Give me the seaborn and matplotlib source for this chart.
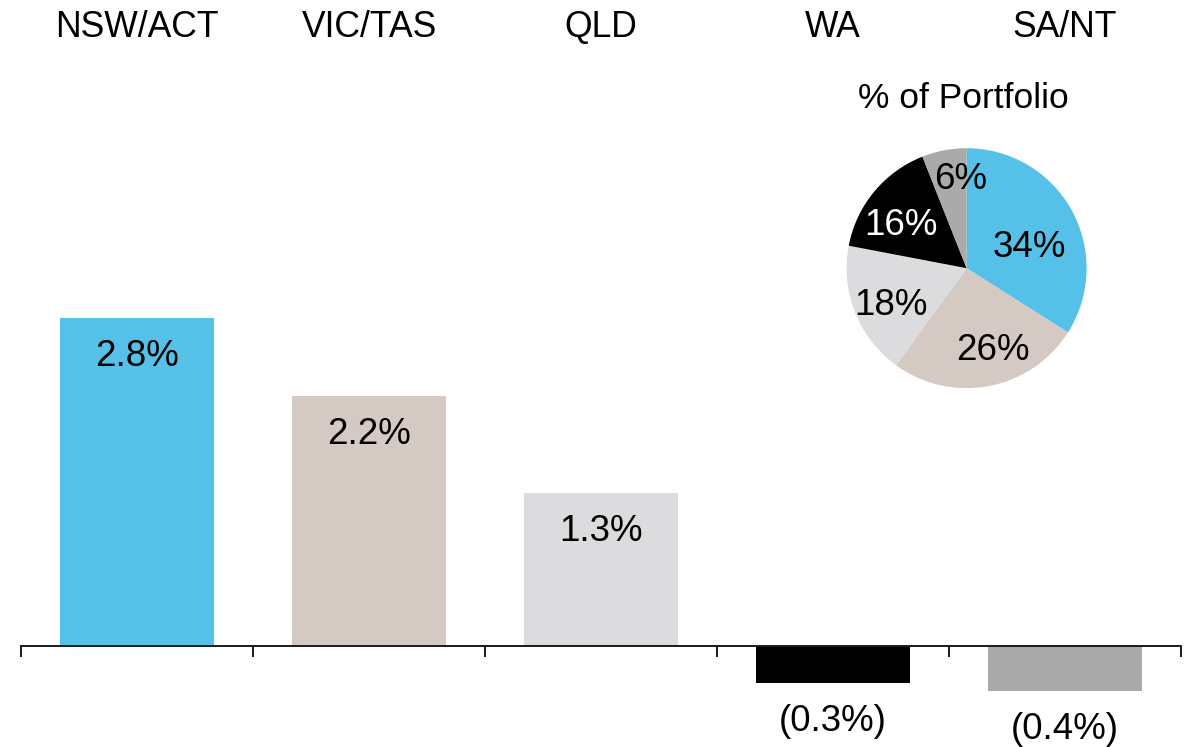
import numpy as np
import pandas as pd
import seaborn as sns
import matplotlib.pyplot as plt

# bar data
regions = ["NSW/ACT", "VIC/TAS", "QLD", "WA", "SA/NT"]
growth = [2.8, 2.13, 1.30, -0.32, -0.39]
growth_labels = ["2.8%", "2.2%", "1.3%", "(0.3%)", "(0.4%)"]

# pie data (share of portfolio, same order as regions)
share = [34, 26, 18, 16, 6]
share_labels = ["34%", "26%", "18%", "16%", "6%"]

BLUE = "#55C1E8"
BEIGE = "#D5C9C3"
LIGHT_GREY = "#DCDCDE"
BLACK = "#000000"
GREY = "#AAAAAB"
colors = [BLUE, BEIGE, LIGHT_GREY, BLACK, GREY]

sns.set_theme(style="white")
plt.rcParams['font.family'] = ['Liberation Sans', 'DejaVu Sans']

W, H = 1196, 747
fig = plt.figure(figsize=(W / 100, H / 100), dpi=100)

# main axes: spans full height, zero line at y=645.7px, 117.1 px per 1%
px_per_unit = 117.1
zero_px = 645.7
ax = fig.add_axes([21 / W, 0, 1160 / W, 1])

df = pd.DataFrame({"region": regions, "growth": growth})
sns.barplot(data=df, x="region", y="growth", hue="region", palette=colors,
            order=regions, hue_order=regions, width=0.668, saturation=1,
            legend=False, linewidth=0, ax=ax)

ax.set_xlim(-0.5, 4.5)
ax.set_ylim(-(H - zero_px) / px_per_unit, zero_px / px_per_unit)
ax.set_xlabel('')
ax.set_ylabel('')
ax.set_yticks([])
ax.set_xticks(np.arange(-0.5, 5, 1))
ax.set_xticklabels([])
for s in ['left', 'right', 'top']:
    ax.spines[s].set_visible(False)
ax.spines['bottom'].set_position(('data', 0))
ax.spines['bottom'].set_linewidth(1.4)
ax.spines['bottom'].set_color('#1a1a1a')
ax.tick_params(axis='x', direction='out', length=8, width=1.4, color='#1a1a1a', bottom=True)

# bar value labels
offset = 48 / px_per_unit
for i, (v, lab) in enumerate(zip(growth, growth_labels)):
    ax.text(i, v - offset, lab, ha='center', va='baseline', fontsize=26.5, color='black')

# region names on top
for i, name in enumerate(regions):
    ax.text(i, 1 - 37.3 / H, name, transform=ax.get_xaxis_transform(),
            ha='center', va='baseline', fontsize=25.6, color='black')

# pie inset
cx, cy, r = 966.6, 268.2, 120
ax_pie = fig.add_axes([(cx - r) / W, 1 - (cy + r) / H, 2 * r / W, 2 * r / H])
ax_pie.pie(share, colors=colors, startangle=90, counterclock=False, radius=1,
           wedgeprops=dict(linewidth=0))
ax_pie.set_xlim(-1, 1)
ax_pie.set_ylim(-1, 1)
ax_pie.axis('off')

label_x = [0.52, 0.22, -0.63, -0.55, -0.05]
label_y = [0.094, -0.763, -0.39, 0.274, 0.661]
label_colors = ['black', 'black', 'black', 'white', 'black']
for lab, x, y, c in zip(share_labels, label_x, label_y, label_colors):
    ax_pie.text(x, y, lab, ha='center', va='baseline', fontsize=26.5, color=c)

fig.text(963 / W, 1 - 108 / H, "% of Portfolio", ha='center', va='baseline',
         fontsize=25.5, color='black')

fig.savefig("out.png", dpi=100)
